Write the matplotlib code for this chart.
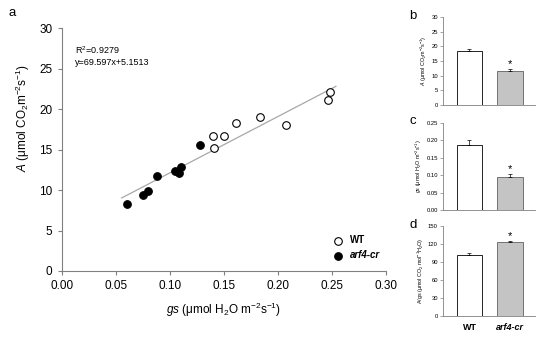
import matplotlib
matplotlib.use('Agg')
import matplotlib.pyplot as plt
import numpy as np

plt.rcParams['font.family'] = ['Liberation Sans', 'DejaVu Sans']
plt.rcParams['mathtext.fontset'] = 'custom'
plt.rcParams['mathtext.rm'] = 'Liberation Sans'
plt.rcParams['mathtext.it'] = 'Liberation Sans:italic'
plt.rcParams['mathtext.bf'] = 'Liberation Sans:bold'

# scatter data (gs, A)
wt_gs = [0.1397, 0.1411, 0.1504, 0.161, 0.1834, 0.2077, 0.2462, 0.2484]
wt_a = [16.67, 15.15, 16.7, 18.23, 18.98, 18.06, 21.07, 22.06]
cr_gs = [0.0607, 0.0755, 0.0796, 0.0884, 0.1048, 0.1085, 0.1101, 0.1279]
cr_a = [8.23, 9.38, 9.91, 11.69, 12.38, 12.1, 12.84, 15.59]

slope, intercept = 69.597, 5.1513
fit_range = [0.0555, 0.2536]

# bar panels
genotypes = ['WT', 'arf4-cr']
a_mean = [18.3, 11.5]
a_err = [0.8, 0.8]
gs_mean = [0.185, 0.095]
gs_err = [0.015, 0.008]
wue_mean = [101, 123]
wue_err = [4, 2]

GRAY = '#808080'

fig = plt.figure(figsize=(5.5, 3.45), dpi=100)

# ---- panel a ----
ax = fig.add_axes([0.112, 0.2145, 0.590, 0.7043])
fx = np.array(fit_range)
ax.plot(fx, slope * fx + intercept, color='#a8a8a8', lw=0.9, zorder=1)
ax.scatter(wt_gs, wt_a, s=30, facecolor='white', edgecolor='black', lw=0.8, zorder=3, label='WT')
ax.scatter(cr_gs, cr_a, s=30, facecolor='black', edgecolor='black', lw=0.8, zorder=3, label='arf4-cr')
ax.set_xlim(0, 0.30)
ax.set_ylim(0, 30)
ax.set_xticks(np.arange(0, 0.301, 0.05))
ax.set_xticklabels([f'{v:.2f}' for v in np.arange(0, 0.301, 0.05)])
ax.set_yticks(np.arange(0, 31, 5))
for s in ['top', 'right']:
    ax.spines[s].set_visible(False)
for s in ['left', 'bottom']:
    ax.spines[s].set_color(GRAY)
    ax.spines[s].set_linewidth(0.8)
ax.tick_params(direction='out', length=3, width=0.8, color=GRAY, labelsize=8.5)
ax.set_xlabel(r'$\it{gs}$ ($\mathregular{\mu}$mol H$_2$O m$^{-2}$s$^{-1}$)', fontsize=8.5, labelpad=6)
ax.set_ylabel(r'$\it{A}$ ($\mathregular{\mu}$mol CO$_2$m$^{-2}$s$^{-1}$)', fontsize=8.5, labelpad=4)
ax.yaxis.set_label_coords(-0.09, 0.63)
ax.text(0.041, 0.935, r'R$^2$=0.9279' + '\ny=69.597x+5.1513', transform=ax.transAxes,
        fontsize=6.5, va='top', linespacing=1.4)
leg = ax.legend(loc='lower right', bbox_to_anchor=(1.0, 0.02), frameon=False, fontsize=7,
                handletextpad=0.3, labelspacing=0.5, borderaxespad=0.2, scatterpoints=1)
for t in leg.get_texts():
    t.set_fontweight('bold')
leg.get_texts()[1].set_fontstyle('italic')
fig.text(0.015, 0.955, 'a', fontsize=9.5)


def bar_panel(rect, means, errs, ymax, step, fmt, ylabel, letter, show_x=False):
    bx = fig.add_axes(rect)
    pos = np.arange(len(means))
    bx.bar(pos, means, width=0.62, color=['white', '#c4c4c4'], edgecolor=['black', '#606060'], lw=0.6)
    bx.errorbar(pos, means, yerr=[[0, 0], errs], fmt='none', ecolor='black', elinewidth=0.5,
                capsize=1.5, capthick=0.5)
    bx.text(pos[1], means[1] + errs[1], '*', ha='center', va='bottom', fontsize=8)
    bx.set_xlim(-0.66, 1.62)
    bx.set_ylim(0, ymax)
    ticks = np.arange(0, ymax + step / 2, step)
    bx.set_yticks(ticks)
    bx.set_yticklabels([fmt.format(v) for v in ticks])
    for s in ['top', 'right']:
        bx.spines[s].set_visible(False)
    for s in ['left', 'bottom']:
        bx.spines[s].set_color(GRAY)
        bx.spines[s].set_linewidth(0.6)
    bx.tick_params(axis='y', direction='out', length=2, width=0.5, color=GRAY, labelsize=4.2, pad=1.5)
    bx.tick_params(axis='x', length=0)
    bx.set_ylabel(ylabel, fontsize=3.9, labelpad=1.5)
    if show_x:
        bx.set_xticks(pos)
        bx.set_xticklabels(genotypes, fontsize=6.5, fontweight='bold')
        bx.get_xticklabels()[1].set_fontstyle('italic')
        bx.tick_params(axis='x', pad=5)
    else:
        bx.set_xticks([])
    fig.text(rect[0] - 0.061, rect[1] + rect[3] - 0.005, letter, fontsize=9.5)
    return bx


bar_panel([0.805, 0.6957, 0.168, 0.255], a_mean, a_err, 30, 5, '{:.0f}',
          r'$\it{A}$ ($\mathregular{\mu}$mol CO$_2$m$^{-2}$s$^{-1}$)', 'b')
bar_panel([0.805, 0.3913, 0.168, 0.253], gs_mean, gs_err, 0.25, 0.05, '{:.2f}',
          r'$\it{gs}$ ($\mathregular{\mu}$mol H$_2$O m$^{-2}$s$^{-1}$)', 'c')
bar_panel([0.805, 0.0841, 0.168, 0.261], wue_mean, wue_err, 150, 30, '{:.0f}',
          r'A/gs ($\mathregular{\mu}$mol CO$_2$ mol$^{-1}$H$_2$O)', 'd', show_x=True)

fig.savefig('out.png', dpi=100, facecolor='white')
